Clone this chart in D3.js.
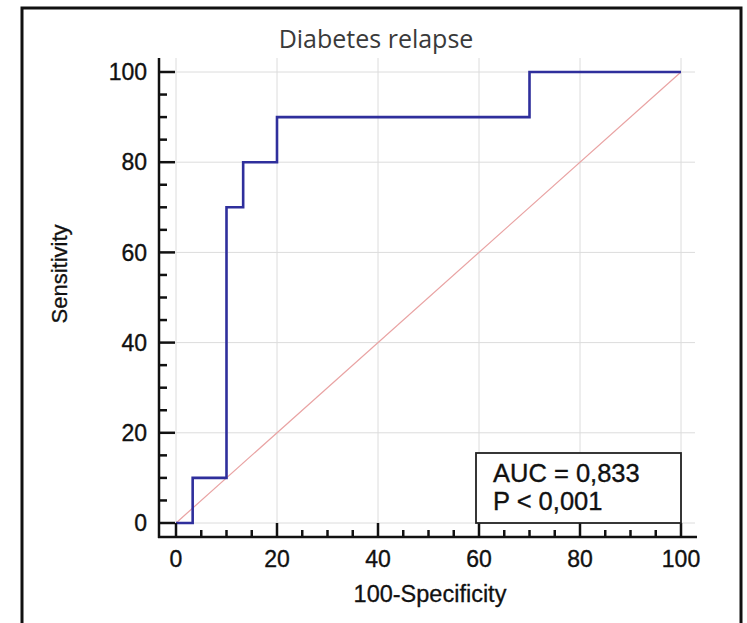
<!DOCTYPE html>
<html>
<head>
  <meta charset="utf-8">
  <title>Diabetes relapse ROC</title>
  <style>
    body { margin: 0; background: #fff; }
    svg { display: block; }
    .tick-label { font-family: 'Liberation Sans', Arial, sans-serif; font-size: 23px; fill: #111; stroke: #111; stroke-width: 0.35px; }
    .stat-label { font-family: 'Liberation Sans', Arial, sans-serif; font-size: 25.5px; fill: #111; stroke: #111; stroke-width: 0.35px; }
    .axis-title { font-family: 'Liberation Sans', Arial, sans-serif; font-size: 23.5px; fill: #111; stroke: #111; stroke-width: 0.3px; }
    .chart-title { font-family: 'Open Sans', sans-serif; font-size: 25px; fill: #3a3a3a; }
  </style>
</head>
<body>
  <div id="chart"></div>
  <script src="https://d3js.org/d3.v7.min.js"></script>
  <script>
    // ROC curve
    const rocX = [0, 3.3, 3.3, 10, 10, 13.3, 13.3, 20, 20, 70, 70, 100];
    const rocY = [0, 0, 10, 10, 70, 70, 80, 80, 90, 90, 100, 100];
    const xTicks = [0, 20, 40, 60, 80, 100];
    const yTicks = [0, 20, 40, 60, 80, 100];
    const statLines = ["AUC = 0,833", "P < 0,001"];
    const chartTitle = "Diabetes relapse";

    const width = 747, height = 623;

    const svg = d3.select("#chart")
      .append("svg")
      .attr("width", width)
      .attr("height", height);

    // outer frame (bottom edge runs off the picture)
    svg.append("rect")
      .attr("x", 22).attr("y", 8)
      .attr("width", 719).attr("height", 640)
      .attr("fill", "none")
      .attr("stroke", "#111")
      .attr("stroke-width", 3);

    const x = d3.scaleLinear().domain([0, 100]).range([176, 681]);
    const y = d3.scaleLinear().domain([0, 100]).range([523, 72]);

    const axisX = 159, axisY = 537;
    const gridRight = 695, gridTop = 58;

    // gridlines
    const grid = svg.append("g").attr("stroke", "#dcdcdc").attr("stroke-width", 1);
    grid.selectAll(".gx").data(xTicks).enter().append("line")
      .attr("x1", d => x(d)).attr("x2", d => x(d))
      .attr("y1", gridTop).attr("y2", axisY);
    grid.selectAll(".gy").data(yTicks).enter().append("line")
      .attr("x1", axisX).attr("x2", gridRight)
      .attr("y1", d => y(d)).attr("y2", d => y(d));

    // diagonal reference
    svg.append("line")
      .attr("x1", x(0)).attr("y1", y(0))
      .attr("x2", x(100)).attr("y2", y(100))
      .attr("stroke", "#e9a3a3")
      .attr("stroke-width", 1.2);

    // ROC step line
    const line = d3.line()
      .x((d, i) => x(rocX[i]))
      .y(d => y(d));
    svg.append("path")
      .datum(rocY)
      .attr("d", line)
      .attr("fill", "none")
      .attr("stroke", "#2f2f9c")
      .attr("stroke-width", 2.6);

    // axes lines with inward ticks
    const axes = svg.append("g").attr("stroke", "#111").attr("stroke-width", 2.5);
    axes.append("line").attr("x1", axisX).attr("x2", axisX).attr("y1", gridTop).attr("y2", axisY + 1);
    axes.append("line").attr("x1", axisX - 1).attr("x2", gridRight + 2).attr("y1", axisY).attr("y2", axisY);

    const minor = d3.range(0, 101, 5);
    axes.selectAll(".ty").data(minor).enter().append("line")
      .attr("x1", axisX)
      .attr("x2", d => axisX + (d % 20 === 0 ? 16 : 8))
      .attr("y1", d => y(d)).attr("y2", d => y(d));
    axes.selectAll(".tx").data(minor).enter().append("line")
      .attr("x1", d => x(d)).attr("x2", d => x(d))
      .attr("y1", axisY)
      .attr("y2", d => axisY - (d % 20 === 0 ? 14 : 7));

    // tick labels
    svg.selectAll(".ylab").data(yTicks).enter().append("text")
      .attr("class", "tick-label")
      .attr("x", 147)
      .attr("y", d => y(d))
      .attr("dy", "0.36em")
      .attr("text-anchor", "end")
      .text(d => d);
    svg.selectAll(".xlab").data(xTicks).enter().append("text")
      .attr("class", "tick-label")
      .attr("x", d => x(d))
      .attr("y", 567)
      .attr("text-anchor", "middle")
      .text(d => d);

    // titles
    svg.append("text")
      .attr("class", "chart-title")
      .attr("x", 376).attr("y", 48)
      .attr("text-anchor", "middle")
      .text(chartTitle);
    svg.append("text")
      .attr("class", "axis-title")
      .attr("x", 430).attr("y", 602)
      .attr("text-anchor", "middle")
      .text("100-Specificity");
    svg.append("text")
      .attr("class", "axis-title")
      .style("font-size", "22px")
      .attr("transform", "translate(67,274) rotate(-90)")
      .attr("text-anchor", "middle")
      .text("Sensitivity");

    // statistics box
    const box = svg.append("g");
    box.append("rect")
      .attr("x", 476).attr("y", 453)
      .attr("width", x(100) - 476).attr("height", y(0) - 453)
      .attr("fill", "#fff")
      .attr("stroke", "#222")
      .attr("stroke-width", 1.8);
    box.selectAll("text").data(statLines).enter().append("text")
      .attr("class", "stat-label")
      .attr("x", 493)
      .attr("y", (d, i) => 482 + i * 28)
      .text(d => d);
  </script>
</body>
</html>
